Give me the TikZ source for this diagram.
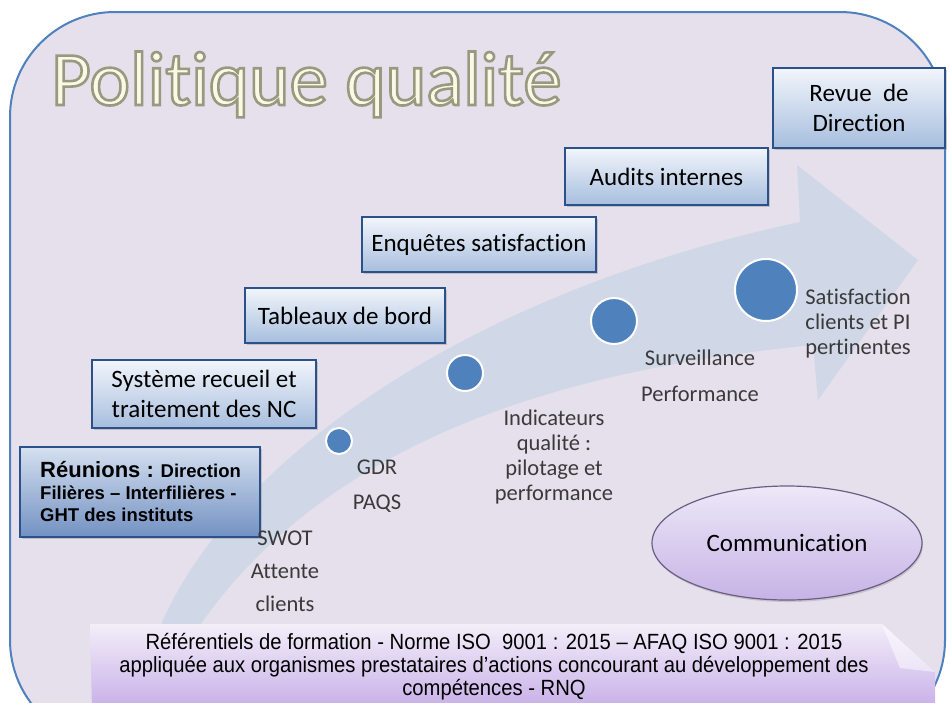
\documentclass[tikz,border=0pt]{standalone}
\usepackage{fontspec}
\setmainfont[Ligatures={NoCommon}]{Carlito}
\newfontfamily\arialf{Liberation Sans}
\newfontfamily\narrowf[FakeStretch=0.92]{Liberation Sans}
\usetikzlibrary{shadows,shapes.geometric}
\definecolor{bgl}{HTML}{E5E0EC}
\definecolor{frameb}{HTML}{4F81BD}
\definecolor{arrowc}{HTML}{D0D8E8}
\definecolor{boxb}{HTML}{2A5189}
\definecolor{boxtop}{HTML}{F2F5FB}
\definecolor{boxbot}{HTML}{A7BEDE}
\definecolor{reuntop}{HTML}{D5E0F0}
\definecolor{reunbot}{HTML}{7391C2}
\definecolor{dotc}{HTML}{4F81BD}
\definecolor{lbl}{HTML}{3A3A3A}
\definecolor{titlef}{HTML}{FBF8E6}
\definecolor{ellb}{HTML}{6B5E82}
\definecolor{ellt}{HTML}{EEE8F8}
\definecolor{ellbt}{HTML}{C6B3E6}
\definecolor{banT}{HTML}{F3EEF9}
\definecolor{banB}{HTML}{C7AEE8}
\newcommand\outlinetext[1]{\special{pdf:literal direct 2 Tr 2.6 w 0.6 0.6 0.5 RG}#1\special{pdf:literal direct 0 Tr}}
\begin{document}
\begin{tikzpicture}[x=1pt,y=-1pt,
  stepbox/.style={draw=boxb, line width=2.2pt, top color=boxtop, bottom color=boxbot,
    drop shadow={opacity=0.35, shadow xshift=2pt, shadow yshift=-2pt},
    inner sep=0pt, align=center, text=black, font=\fontsize{25}{30}\selectfont},
  dot/.style={circle, fill=dotc, draw=white, line width=2pt, inner sep=0pt},
  lab/.style={text=lbl, align=center, inner sep=0pt}
]
\useasboundingbox (0,0) rectangle (949,702);
\fill[white] (0,0) rectangle (949,702);
\begin{scope}
  \clip (0,0) rectangle (949,702);
  \draw[frameb, line width=2pt, fill=bgl, rounded corners=105pt] (10,12) rectangle (945,745);
  % big arrow
  \fill[arrowc] (148,665) -- (163,620) .. controls (240,450) and (480,290) .. (800,222)
     -- (797,165) -- (918,260) -- (818,400) -- (813,345)
     .. controls (560,370) and (330,440) .. (200,625) -- (188,665) -- cycle;
\end{scope}
% title
\node[anchor=base west, inner sep=0pt, text=titlef, font=\fontsize{77}{80}\selectfont]
  (title) at (51,105) {\outlinetext{Politique qualité}};

% boxes
\node[stepbox, minimum width=240, minimum height=90, top color=reuntop, bottom color=reunbot]
  (reun) at (140,492) {};
\node[anchor=north west, inner sep=0pt, align=left, text=black, font=\arialf\bfseries\fontsize{18.5}{21.5}\selectfont]
  (reuntxt) at (40,461) {{\fontsize{22}{22}\selectfont Réunions :} Direction\\[1pt]
  Filières – Interfilières -\\ GHT des instituts};
\node[stepbox, minimum width=224, minimum height=68] (syst) at (204,394) {Système recueil et\\ traitement des NC};
\node[stepbox, minimum width=200, minimum height=55] (tabl) at (345,315.5) {Tableaux de bord};
\node[stepbox, minimum width=234, minimum height=55] (enqu) at (479,244.5) {Enquêtes satisfaction};
\node[stepbox, minimum width=203, minimum height=57] (audi) at (666.5,176.5) {Audits internes};
\node[stepbox, minimum width=172, minimum height=80] (revu) at (859,108) {Revue~ de\\ Direction};

% dots
\node[dot, minimum size=26] (c1) at (339,441) {};
\node[dot, minimum size=36] (c2) at (465,373) {};
\node[dot, minimum size=46] (c3) at (614,321) {};
\node[dot, minimum size=62] (c4) at (766,290) {};

% labels
\node[lab, font=\fontsize{22.5}{33}\selectfont, anchor=north] (swot) at (285,531) {SWOT\\ Attente\\ clients};
\node[lab, font=\fontsize{22.5}{35}\selectfont, anchor=north] (gdr) at (377,460) {GDR\\ PAQS};
\node[lab, font=\fontsize{22.5}{25}\selectfont, anchor=north] (indi) at (554,410) {Indicateurs\\ qualité :\\ pilotage et\\ performance};
\node[lab, font=\fontsize{22.5}{36}\selectfont, anchor=north] (surv) at (700,350) {Surveillance\\ Performance};
\node[lab, font=\fontsize{22.5}{25}\selectfont, anchor=north] (sati) at (858,289) {Satisfaction\\ clients et PI\\ pertinentes};

% communication
\node[ellipse, minimum width=270, minimum height=114, draw=ellb, line width=1.2pt,
  top color=ellt, bottom color=ellbt, drop shadow={opacity=0.3, shadow xshift=1pt, shadow yshift=-2pt},
  font=\fontsize{25}{26}\selectfont, text=black] (comm) at (787,543) {Communication};

% banner
\begin{scope}
  \clip (0,0) rectangle (949,702);
  \shade[top color=banT, bottom color=banB] (90,624) -- (882,624) -- (935,672) -- (935,710) -- (92,710) -- cycle;
  \fill[white, opacity=0.5] (882,624) -- (935,672) -- (900,668) -- cycle;
\end{scope}
\node[inner sep=0pt, align=center, text=black, font=\narrowf\fontsize{22}{23}\selectfont] (bann) at (494,667)
  {Référentiels de formation - Norme ISO~ 9001 : 2015 – AFAQ ISO 9001 : 2015\\
   appliquée aux organismes prestataires d’actions concourant au développement des\\
   compétences - RNQ};
\end{tikzpicture}
\end{document}
